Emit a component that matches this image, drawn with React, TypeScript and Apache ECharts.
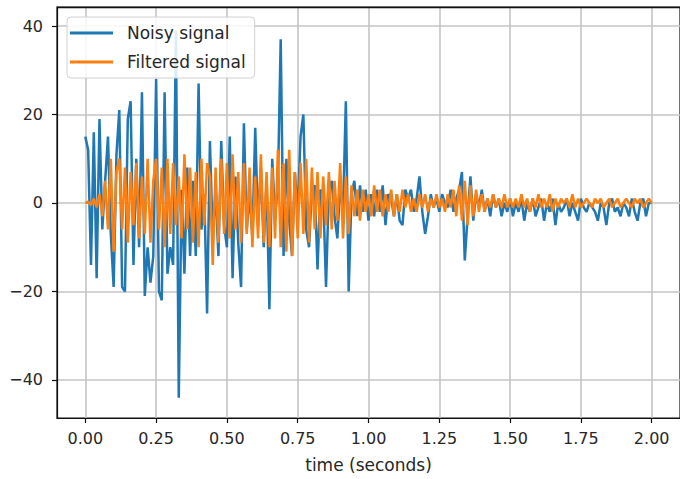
import React, { useEffect, useRef } from "react";
import * as echarts from "echarts";

// Sampling step of both signals (seconds)
const TIME_STEP = 0.01;

// Noisy signal values, one per TIME_STEP starting at t = 0
const noisyValues: number[] = [
  15, 12, -14, 16, -17, 19, -6, 5, 15, -7,
  -19, 11, 21, -19, -20, 19, 23, -14, 10, -10,
  25, -21, -10, -18, -12, 28, -20, -22, 25, -16,
  -10, -14, 39, -44, 3, -16, 8, -12, 5, -12,
  27, -6, 2, -25, 14, -8, 3, -12, 14, -5,
  -10, 15, -17, 6, -9, -19, 18, -6, 2, -8,
  17, -5, 8, -10, 5, -24, 10, -3, 4, 37,
  -12, 10, -4, -12, 7, -2, 15, 20, -6, -10,
  3, 4, -15, 3, 2, -19, 3, 5, -3, -8,
  4, -2, 23, -20, 2, 5, -3, 4, -2, 3,
  -4, 2, -3, 3, -2, 4, -5, 2, 1, -3,
  2, -4, -5, 3, 1, 3, -2, 1, 6, -2,
  -7, -3, 2, -1, 1, -2, 2, 0, -1, 3,
  -2, 1, 3, 7, -13, -3, 6, -4, 2, -1,
  3, -2, 1, -3, 2, -1, 1, -3, 0, -2,
  1, -3, 0, -2, 1, -4, 0, -2, 1, -3,
  -1, 1, -4, 0, -2, 1, -5, 0, -2, -1,
  1, -3, 0, -2, -4, 1, -1, -2, 0, -1,
  -2, -4, 0, -1, -5, 0, 1, -2, -1, -3,
  0, -1, -3, 1, -2, -4, 0, 1, -3, 0,
  0,
];

// Filtered signal values, one per TIME_STEP starting at t = 0
const filteredValues: number[] = [
  0, 0.3, -0.5, 1, -1, 2, -3, 5, -6, 10,
  -11, 7, 10, -6, 8, -9, 7, -5, 9, -8,
  6, -7, 10, -9, 5, 10, -6, 8, -10, 10,
  -7, 9, -5, 6, -8, 11, -6, 8, -9, 7,
  -10, 10, -5, 9, 6, -14, 8, -9, 10, -7,
  9, -8, 11, -6, 7, -9, 9, -7, 8, -10,
  6, -8, 11, -9, 7, -10, 8, -8, 12, -10,
  9, -11, 12, -12, 7, -8, 9, -7, 10, -9,
  8, -6, 7, -8, 6, -5, 7, -6, 5, -4,
  9, -8, 6, -7, 4, -3, 3, -4, 3, -2,
  2, -3, 4, -2, 3, -3, 2, -2, 3, -3,
  2, -2, 3, -1, 2, -2, 1, -2, 2, -1,
  2, -2, 1, -1, 2, -1, 1, -2, 2, -1,
  3, -3, 4, -4, 5, -5, 4, -3, 3, -2,
  2, -2, 1, -1, 2, -1, 1, -1, 2, -1,
  1, -1, 1, -1, 2, -1, 1, -2, 1, -1,
  2, -1, 1, -1, 2, -2, 1, -1, 1, 0,
  1, -1, 2, -1, 1, -1, 0, 1, 0, -1,
  1, 0, 1, -1, 0, 1, -1, 0, 1, -1,
  0, 1, 0, -1, 1, 0, 1, -1, 0, 1,
  0,
];

const xTicks = [0, 0.25, 0.5, 0.75, 1.0, 1.25, 1.5, 1.75, 2.0];
const yTicks = [-40, -20, 0, 20, 40];

const toPairs = (vals: number[]) =>
  vals.map((v, i) => [Math.round(i * TIME_STEP * 1000) / 1000, v]);

const FONT = "DejaVu Sans";
const X_MIN = -0.1;
const X_MAX = 2.1;
const Y_MIN = -48.6;
const Y_MAX = 44.3;

export default function App() {
  const ref = useRef<HTMLDivElement>(null);

  useEffect(() => {
    if (!ref.current) return;
    const chart = echarts.init(ref.current, undefined, { renderer: "svg" });
    const gridLine = { show: true, lineStyle: { color: "#c4c4c4", width: 1.6 } };
    const spine = { show: true, onZero: false, lineStyle: { color: "#111", width: 1.2 } };
    chart.setOption({
      animation: false,
      backgroundColor: "#ffffff",
      grid: {
        left: 57,
        right: -8,
        top: 7,
        bottom: 61,
        show: true,
        borderColor: "#111",
        borderWidth: 1.2,
        backgroundColor: "rgba(0,0,0,0)",
      },
      legend: {
        left: 67,
        top: 17,
        orient: "vertical",
        icon: "rect",
        itemWidth: 43,
        itemHeight: 3,
        itemGap: 9,
        padding: [6, 9, 6, 3],
        backgroundColor: "rgba(255,255,255,0.85)",
        borderColor: "#d0d0d0",
        borderWidth: 1,
        borderRadius: 4,
        textStyle: {
          fontFamily: FONT,
          fontSize: 17,
          color: "#262626",
          lineHeight: 20,
          padding: [0, 0, 0, 9],
        },
        data: ["Noisy signal", "Filtered signal"],
      },
      xAxis: {
        type: "value",
        min: X_MIN,
        max: X_MAX,
        name: "time (seconds)",
        nameLocation: "middle",
        nameGap: 38,
        nameTextStyle: { fontFamily: FONT, fontSize: 17, color: "#262626" },
        axisLine: spine,
        axisTick: {
          show: true,
          inside: false,
          length: 5,
          customValues: xTicks,
          lineStyle: { color: "#111", width: 1.2 },
        },
        axisLabel: {
          customValues: xTicks,
          margin: 12,
          fontFamily: FONT,
          fontSize: 16,
          color: "#262626",
          formatter: (v: number) => v.toFixed(2),
        },
        splitLine: gridLine,
      },
      yAxis: {
        type: "value",
        min: Y_MIN,
        max: Y_MAX,
        axisLine: spine,
        axisTick: {
          show: true,
          inside: false,
          length: 5,
          customValues: yTicks,
          lineStyle: { color: "#111", width: 1.2 },
        },
        axisLabel: {
          customValues: yTicks,
          margin: 14,
          fontFamily: FONT,
          fontSize: 16,
          color: "#262626",
          formatter: (v: number) => (v < 0 ? "\u2212" + Math.abs(v) : String(v)),
        },
        splitLine: gridLine,
      },
      series: [
        {
          name: "Noisy signal",
          type: "line",
          data: toPairs(noisyValues),
          showSymbol: false,
          symbol: "none",
          lineStyle: { color: "#1f77b4", width: 2.5 },
          itemStyle: { color: "#1f77b4" },
          z: 2,
          markLine: {
            silent: true,
            symbol: ["none", "none"],
            label: { show: false },
            lineStyle: { color: "#111", width: 1.4, type: "solid" },
            data: [{ yAxis: Y_MAX - 0.05 }],
            z: 10,
          },
        },
        {
          name: "Filtered signal",
          type: "line",
          data: toPairs(filteredValues),
          showSymbol: false,
          symbol: "none",
          lineStyle: { color: "#ff7f0e", width: 2.5 },
          itemStyle: { color: "#ff7f0e" },
          z: 3,
        },
      ],
    });
    return () => chart.dispose();
  }, []);

  return (
    <div
      ref={ref}
      style={{ position: "absolute", left: 0, top: 0, width: 680, height: 479 }}
    />
  );
}
